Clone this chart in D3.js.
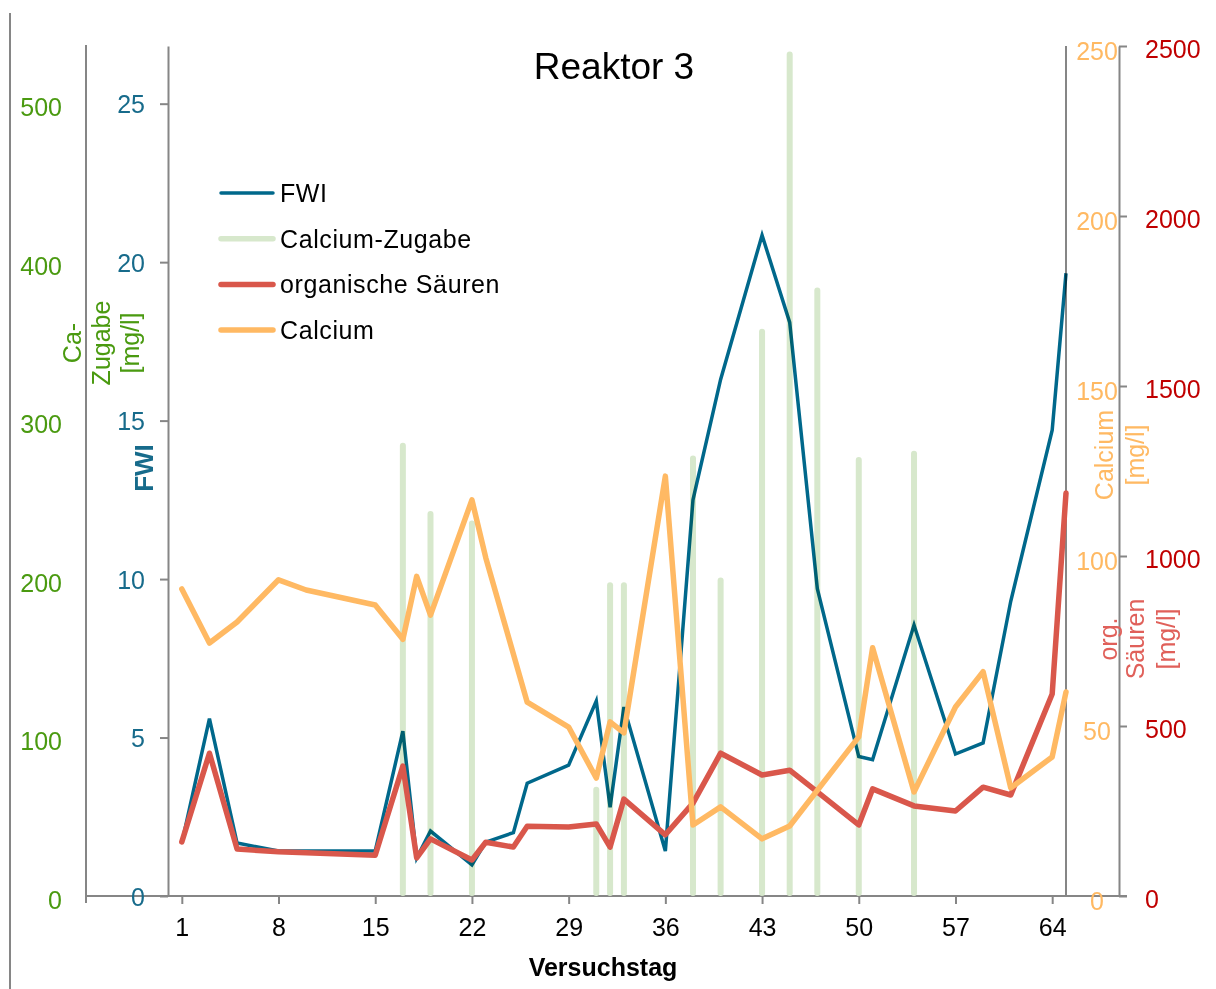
<!DOCTYPE html>
<html>
<head>
<meta charset="utf-8">
<script src="https://cdn.jsdelivr.net/npm/d3@7"></script>
<style>
  html, body { margin: 0; padding: 0; background: #fff; }
  svg { display: block; font-family: "Liberation Sans", Arial, sans-serif; }
</style>
</head>
<body>
<svg id="chart" width="1216" height="989"></svg>
<script>
// Reaktor 3: FWI, Ca-Zugabe, organische Säuren und Calcium über die Versuchstage

const dayTicks = [1, 8, 15, 22, 29, 36, 43, 50, 57, 64];

const fwiDays   = [1, 3, 5, 8, 15, 17, 18, 19, 22, 23, 25, 26, 29, 31, 32, 33, 36, 38, 40, 43, 45, 47, 50, 51, 54, 57, 59, 61, 64, 65];
const fwiValues = [1.67, 5.6, 1.67, 1.42, 1.42, 5.2, 1.2, 2.05, 0.98, 1.7, 2.0, 3.56, 4.13, 6.15, 2.8, 5.96, 1.42, 12.5, 16.3, 20.85, 18.1, 9.7, 4.4, 4.3, 8.55, 4.48, 4.83, 9.3, 14.7, 19.65];

const zugabeDays   = [17, 19, 22, 31, 32, 33, 38, 40, 43, 45, 47, 50, 54];
const zugabeValues = [286, 243, 237, 69, 198, 198, 278, 201, 358, 533, 384, 277, 281];

const saeureDays   = [1, 3, 5, 8, 15, 17, 18, 19, 22, 23, 25, 26, 29, 31, 32, 33, 36, 38, 40, 43, 45, 47, 50, 51, 54, 57, 59, 61, 64, 65];
const saeureValues = [159, 420, 138, 130, 120, 382, 112, 168, 106, 158, 144, 205, 203, 212, 144, 285, 180, 273, 420, 356, 370, 306, 209, 315, 265, 250, 320, 297, 594, 1185];

const calciumDays   = [1, 3, 5, 8, 10, 15, 17, 18, 19, 22, 23, 26, 29, 31, 32, 33, 36, 38, 40, 43, 45, 50, 51, 54, 57, 59, 61, 64, 65];
const calciumValues = [90.3, 74.4, 80.6, 93, 90, 85.6, 75.5, 94, 82.6, 116.5, 99.5, 57, 49.7, 34.7, 51.2, 48, 123.5, 20.9, 26.2, 16.8, 20.6, 46.8, 73, 30.6, 55.6, 66, 31.8, 40.9, 60];

const fwiTicks     = [0, 5, 10, 15, 20, 25];
const zugabeTicks  = [0, 100, 200, 300, 400, 500];
const calciumTicks = [0, 50, 100, 150, 200, 250];
const saeureTicks  = [0, 500, 1000, 1500, 2000, 2500];

const legendItems = ["FWI", "Calcium-Zugabe", "organische Säuren", "Calcium"];

const C = {
  fwi: "#00688b", fwiText: "#176b8b",
  zugabe: "#d7e8cc", zugabeText: "#4a9a10",
  saeure: "#d9574b", saeureTick: "#c00000", saeureTitle: "#e0605a",
  calcium: "#ffb963",
  axis: "#868686"
};

const plotTop = 46, plotBottom = 896, plotLeft = 168, plotRight = 1066;

const svg = d3.select("#chart");

const x = d3.scaleLinear().domain([0, 65]).range([plotLeft, plotRight]);
const yFwi = d3.scaleLinear().domain([0, 26.82]).range([plotBottom, plotTop]);
const yZugabe = d3.scaleLinear().domain([0, 536.4]).range([plotBottom, plotTop]);
const yCalcium = d3.scaleLinear().domain([0, 250]).range([plotBottom, plotTop]);
const ySaeure = d3.scaleLinear().domain([0, 2500]).range([plotBottom, plotTop]);

const zip = (a, b) => a.map((d, i) => [d, b[i]]);
const plain = d3.format("d");

// outer frame line and axis lines
const axisLines = svg.append("g").attr("stroke", C.axis).attr("stroke-width", 2);
axisLines.append("line").attr("x1", 10).attr("x2", 10).attr("y1", 13).attr("y2", 989);
axisLines.append("line").attr("x1", 86).attr("x2", 86).attr("y1", 45).attr("y2", 903);
axisLines.append("line").attr("x1", 86).attr("x2", 1127).attr("y1", plotBottom).attr("y2", plotBottom);
axisLines.append("line").attr("x1", plotRight).attr("x2", plotRight).attr("y1", plotTop).attr("y2", plotBottom);

function styleAxis(g, color) {
  g.select(".domain").attr("stroke", C.axis).attr("stroke-width", 2);
  g.selectAll(".tick line").attr("stroke", C.axis).attr("stroke-width", 2);
  g.selectAll(".tick text").attr("fill", color).style("font-size", "25px")
    .attr("font-family", "Liberation Sans, Arial, sans-serif");
}

// FWI axis
const gFwi = svg.append("g").attr("transform", `translate(${plotLeft},0)`)
  .call(d3.axisLeft(yFwi).tickValues(fwiTicks).tickFormat(plain).tickSize(8).tickPadding(15).tickSizeOuter(0));
styleAxis(gFwi, C.fwiText);
gFwi.selectAll(".tick text").attr("dy", "0.36em");

// Ca-Zugabe axis (labels only)
const gZug = svg.append("g").attr("transform", "translate(86,3)")
  .call(d3.axisLeft(yZugabe).tickValues(zugabeTicks).tickFormat(plain).tickSize(0).tickPadding(24));
styleAxis(gZug, C.zugabeText);
gZug.select(".domain").remove();
gZug.selectAll(".tick text").attr("dy", "0.36em");

// Calcium axis (labels only)
const gCal = svg.append("g").attr("transform", "translate(1097,4)")
  .call(d3.axisRight(yCalcium).tickValues(calciumTicks).tickFormat(plain).tickSize(0).tickPadding(0));
styleAxis(gCal, C.calcium);
gCal.select(".domain").remove();
gCal.selectAll(".tick text").attr("text-anchor", "middle").attr("dy", "0.36em");

// organische Säuren axis
const gSae = svg.append("g").attr("transform", "translate(1119,0)")
  .call(d3.axisRight(ySaeure).tickValues(saeureTicks).tickFormat(plain).tickSize(8).tickPadding(18).tickSizeOuter(0));
styleAxis(gSae, C.saeureTick);
gSae.selectAll(".tick text").attr("dy", "0.46em");

// x axis
const gX = svg.append("g").attr("transform", `translate(0,${plotBottom})`)
  .call(d3.axisBottom(x).tickValues(dayTicks).tickFormat(plain).tickSize(8).tickPadding(14));
styleAxis(gX, "#000");
gX.select(".domain").remove();

// Calcium-Zugabe bars
svg.append("g").selectAll("rect")
  .data(zip(zugabeDays, zugabeValues))
  .join("rect")
  .attr("x", d => x(d[0]) - 3)
  .attr("width", 6)
  .attr("y", d => yZugabe(d[1]))
  .attr("height", d => plotBottom - yZugabe(d[1]))
  .attr("rx", 3)
  .attr("fill", C.zugabe);

// FWI line
svg.append("path")
  .datum(zip(fwiDays, fwiValues))
  .attr("fill", "none")
  .attr("stroke", C.fwi)
  .attr("stroke-width", 3.5)
  .attr("stroke-linejoin", "miter")
  .style("mix-blend-mode", "multiply")
  .attr("d", d3.line().x(d => x(d[0])).y(d => yFwi(d[1])));

// organische Säuren line
svg.append("path")
  .datum(zip(saeureDays, saeureValues))
  .attr("fill", "none")
  .attr("stroke", C.saeure)
  .attr("stroke-width", 5.5)
  .attr("stroke-linejoin", "round")
  .attr("stroke-linecap", "round")
  .attr("d", d3.line().x(d => x(d[0])).y(d => ySaeure(d[1])));

// Calcium line
svg.append("path")
  .datum(zip(calciumDays, calciumValues))
  .attr("fill", "none")
  .attr("stroke", C.calcium)
  .attr("stroke-width", 5.5)
  .attr("stroke-linejoin", "round")
  .attr("stroke-linecap", "round")
  .attr("d", d3.line().x(d => x(d[0])).y(d => yCalcium(d[1])));

// title
svg.append("text").attr("x", 614).attr("y", 79).attr("text-anchor", "middle")
  .style("font-size", "37px").attr("fill", "#000").text("Reaktor 3");

// x axis title
svg.append("text").attr("x", 603).attr("y", 976).attr("text-anchor", "middle")
  .style("font-size", "25px").style("font-weight", "bold").attr("fill", "#000").text("Versuchstag");

// rotated axis titles
function vTitle(lines, cy, color, opts = {}) {
  lines.forEach(([text, bx]) => {
    svg.append("text")
      .attr("transform", `translate(${bx},${cy}) rotate(-90)`)
      .attr("text-anchor", "middle")
      .style("font-size", (opts.size || 25) + "px")
      .style("font-weight", opts.bold ? "bold" : "normal")
      .attr("fill", color)
      .text(text);
  });
}
vTitle([["Ca-", 81], ["Zugabe", 110], ["[mg/l]", 139]], 343, C.zugabeText);
vTitle([["FWI", 153]], 468, C.fwiText, { bold: true, size: 26 });
vTitle([["Calcium", 1113], ["[mg/l]", 1144]], 455, C.calcium);
vTitle([["org.", 1117], ["Säuren", 1144], ["[mg/l]", 1175]], 639, C.saeureTitle);

// legend
const legendColors = [C.fwi, C.zugabe, C.saeure, C.calcium];
const legendWidths = [3.5, 5.5, 5.5, 5.5];
const legend = svg.append("g");
legendItems.forEach((name, i) => {
  const ly = 193 + i * 45.7;
  legend.append("line").attr("x1", 221).attr("x2", 273).attr("y1", ly).attr("y2", ly)
    .attr("stroke", legendColors[i]).attr("stroke-width", legendWidths[i]).attr("stroke-linecap", "round");
  legend.append("text").attr("x", 280).attr("y", ly).attr("dy", "0.36em")
    .style("font-size", "25px").style("letter-spacing", "0.6px").attr("fill", "#000").text(name);
});
</script>
</body>
</html>
